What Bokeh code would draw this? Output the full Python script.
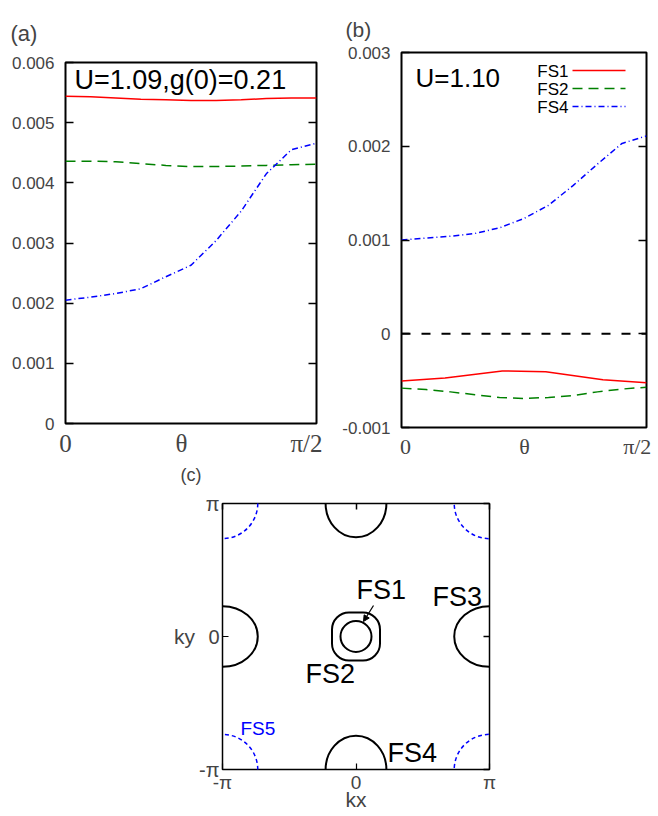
import math
from bokeh.plotting import figure
from bokeh.models import (Range1d, LinearAxis, FixedTicker, Label, Span, Arrow, NormalHead, Title)
from bokeh.layouts import column, row
from bokeh.embed import file_html
from bokeh.resources import INLINE

PI = math.pi

# ---------------- panel (a): U=1.09, g(0)=0.21 ----------------
theta_a = [0, 9, 18, 27, 36, 45, 54, 63, 72, 81, 90]          # degrees, 0 .. pi/2
a_fs1 = [0.00544, 0.00543, 0.00541, 0.00539, 0.00538, 0.00537, 0.00537, 0.00538, 0.00540, 0.00541, 0.00541]
a_fs2 = [0.00436, 0.00436, 0.00435, 0.00432, 0.00429, 0.00427, 0.00427, 0.00428, 0.00429, 0.00430, 0.00431]
a_fs4 = [0.00205, 0.00210, 0.00216, 0.00224, 0.00244, 0.00263, 0.00304, 0.00353, 0.00415, 0.00455, 0.00466]
a_yticks = [0.0, 0.001, 0.002, 0.003, 0.004, 0.005, 0.006]
a_ylabels = ["0", "0.001", "0.002", "0.003", "0.004", "0.005", "0.006"]
a_xticks = [0, 41.6, 86.4]
x_labels = ["0", "θ", "π/2"]

# ---------------- panel (b): U=1.10 ----------------
theta_b = [0, 9, 18, 27, 36, 45, 54, 63, 72, 81, 90]
theta_b_fs1 = [0, 16, 37, 53, 74, 90]
b_fs1 = [-0.000504, -0.000472, -0.000397, -0.000405, -0.000490, -0.000522]
b_fs2 = [-0.000580, -0.000595, -0.000620, -0.000650, -0.000680, -0.000690, -0.000680, -0.000660, -0.000620, -0.000590, -0.000570]
b_fs4 = [0.00100, 0.00102, 0.00104, 0.00107, 0.00113, 0.00123, 0.00137, 0.00158, 0.00181, 0.00203, 0.00211]
b_yticks = [-0.001, 0.0, 0.001, 0.002, 0.003]
b_ylabels = ["-0.001", "0", "0.001", "0.002", "0.003"]
b_xticks = [1.5, 45.2, 86.6]

series_names = ["FS1", "FS2", "FS4"]
series_colors = ["#ff0000", "#008000", "#0000ff"]
series_dashes = ["solid", "10 6", "6 3 1 3"]

# ---------------- panel (c): Fermi surfaces ----------------
fs1_x, fs1_y, fs1_d = [0.0], [0.0], [0.73]
fs2_x, fs2_y, fs2_w = [0.0], [0.0], [1.13]
fs3_x, fs3_y, fs3_w, fs3_h = [-PI, PI], [0.0, 0.0], [1.66, 1.66], [1.43, 1.43]
fs4_x, fs4_y, fs4_w, fs4_h = [0.0, 0.0], [PI, -PI], [1.43, 1.43], [1.60, 1.60]
fs5_x, fs5_y, fs5_d = [-PI, PI, -PI, PI], [PI, PI, -PI, -PI], [1.66, 1.66, 1.66, 1.66]
c_ticks = [-PI, 0.0, PI]
c_left_labels = ["-π", "0", "π"]
c_bottom_labels = ["-π", "0", "π"]


class Geo:
    """Maps page pixel positions (for text placement) into a figure's data space."""
    def __init__(self, fx0, fx1, fy0, fy1, xr, yr):
        self.fx0, self.fx1, self.fy0, self.fy1, self.xr, self.yr = fx0, fx1, fy0, fy1, xr, yr

    def x(self, sx):
        return self.xr[0] + (sx - self.fx0) / (self.fx1 - self.fx0) * (self.xr[1] - self.xr[0])

    def y(self, sy):
        return self.yr[1] - (sy - self.fy0) / (self.fy1 - self.fy0) * (self.yr[1] - self.yr[0])


def lab(p, g, sx, sy, text, size, font="Liberation Sans", color="black", align="left"):
    # sy is the vertical centre of the capitals
    p.add_layout(Label(x=g.x(sx), y=g.y(sy), text=text, text_font=font,
                       text_font_size=f"{size}px", text_color=color, text_align=align,
                       text_baseline="middle"))


def panel_title(p, text, size, offset, standoff, side="above", valign="bottom"):
    p.add_layout(Title(text=text, align="left", offset=offset, standoff=standoff,
                       text_font="Liberation Sans", text_font_size=f"{size}px",
                       text_font_style="normal", vertical_align=valign), side)


def style_panel(p):
    p.grid.visible = False
    p.outline_line_color = "black"
    p.outline_line_width = 2
    p.outline_line_alpha = 1
    p.background_fill_color = "white"
    p.border_fill_color = "white"


def side_ticks(ticks, tick_len):
    return LinearAxis(ticker=FixedTicker(ticks=ticks),
                      major_label_overrides={t: "" for t in ticks},
                      major_tick_in=tick_len, major_tick_out=0, minor_tick_line_color=None,
                      axis_line_color=None, major_label_standoff=0,
                      major_label_text_font_size="1px", major_tick_line_width=1.5)


def style_yaxis(ax, ticks, labels):
    ax.ticker = FixedTicker(ticks=ticks)
    ax.major_label_overrides = dict(zip(ticks, labels))
    ax.major_tick_in = 8
    ax.major_tick_out = 0
    ax.major_tick_line_width = 1.5
    ax.minor_tick_line_color = None
    ax.axis_line_color = None
    ax.major_label_text_font = "Liberation Sans"
    ax.major_label_text_font_size = "17px"
    ax.major_label_standoff = 11


def style_xaxis(ax, ticks, size):
    ax.ticker = FixedTicker(ticks=ticks)
    ax.major_label_overrides = dict(zip(ticks, x_labels))
    ax.major_tick_line_color = None
    ax.minor_tick_line_color = None
    ax.axis_line_color = None
    ax.major_tick_in = 0
    ax.major_tick_out = 0
    ax.major_label_standoff = 6
    ax.major_label_text_font = "Liberation Serif"
    ax.major_label_text_font_size = f"{size}px"


ROW_H = 491

# ================= panel (a) =================
ga = Geo(65, 316, 62, 424, (0, 90), (0, 0.006))
pa = figure(width=330, height=ROW_H, x_range=Range1d(0, 90), y_range=Range1d(0, 0.006),
            output_backend="svg", toolbar_location=None,
            min_border_left=65, min_border_right=14, min_border_top=62, min_border_bottom=ROW_H - 424)
style_panel(pa)
style_yaxis(pa.yaxis[0], a_yticks, a_ylabels)
style_xaxis(pa.xaxis[0], a_xticks, 25)
pa.add_layout(side_ticks(a_yticks[1:-1], 8), "right")

for ys, c, d in zip([a_fs1, a_fs2, a_fs4], series_colors, series_dashes):
    pa.line(theta_a, ys, line_color=c, line_width=1.5, line_dash=d)

panel_title(pa, "(a)", 22, -55, 34)
lab(pa, ga, 74, 80, "U=1.09,g(0)=0.21", 27)
# caption of the lower panel, sitting under panel (a)'s axis in the page
panel_title(pa, "(c)", 18, 115, 10, side="below", valign="top")

# ================= panel (b) =================
gb = Geo(401, 646, 52, 427, (0, 90), (-0.001, 0.003))
pb = figure(width=326, height=ROW_H, x_range=Range1d(0, 90), y_range=Range1d(-0.001, 0.003),
            output_backend="svg", toolbar_location=None,
            min_border_left=71, min_border_right=10, min_border_top=52, min_border_bottom=ROW_H - 427)
style_panel(pb)
style_yaxis(pb.yaxis[0], b_yticks, b_ylabels)
style_xaxis(pb.xaxis[0], b_xticks, 22)
pb.add_layout(side_ticks(b_yticks[1:-1], 8), "right")

pb.add_layout(Span(location=0, dimension="width", line_color="black", line_width=2, line_dash="9 11"))
pb.line(theta_b_fs1, b_fs1, line_color=series_colors[0], line_width=1.5, line_dash=series_dashes[0])
pb.line(theta_b, b_fs2, line_color=series_colors[1], line_width=1.5, line_dash=series_dashes[1])
pb.line(theta_b, b_fs4, line_color=series_colors[2], line_width=1.5, line_dash=series_dashes[2])

# legend (label to the left of the sample, as in the original)
for name, c, d, sy in zip(series_names, series_colors, series_dashes, [71, 89, 107]):
    lab(pb, gb, 568, sy, name, 17, align="right")
    pb.line([gb.x(572), gb.x(625)], [gb.y(sy - 1), gb.y(sy - 1)], line_color=c, line_width=1.5, line_dash=d)

panel_title(pb, "(b)", 21, -56, 24)
lab(pb, gb, 415, 77, "U=1.10", 26)

# ================= panel (c) =================
C_H = 815 - ROW_H
gc = Geo(222, 489, 503, 769, (-PI, PI), (-PI, PI))
pc = figure(width=656, height=C_H, x_range=Range1d(-PI, PI), y_range=Range1d(-PI, PI),
            output_backend="svg", toolbar_location=None,
            min_border_left=222, min_border_right=167, min_border_top=503 - ROW_H,
            min_border_bottom=815 - 769)
style_panel(pc)
pc.outline_line_width = 1.5
for ax in pc.xaxis:
    ax.ticker = FixedTicker(ticks=c_ticks)
    ax.major_label_overrides = dict(zip(c_ticks, c_bottom_labels))
    ax.major_label_standoff = 2
    ax.major_label_text_font_size = "19px"
    ax.axis_label = "kx"
    ax.axis_label_standoff = -8
for ax in pc.yaxis:
    ax.ticker = FixedTicker(ticks=c_ticks)
    ax.major_label_overrides = dict(zip(c_ticks, c_left_labels))
    ax.major_label_standoff = 3
    ax.major_label_text_font_size = "20px"
    ax.axis_label = "ky"
    ax.axis_label_standoff = 1
    if "axis_label_orientation" in ax.properties():
        ax.axis_label_orientation = "horizontal"
for ax in list(pc.xaxis) + list(pc.yaxis):
    ax.major_label_text_font = "Liberation Sans"
    ax.axis_label_text_font = "Liberation Sans"
    ax.axis_label_text_font_size = "21px"
    ax.axis_label_text_font_style = "normal"
    ax.major_tick_in = 6
    ax.major_tick_out = 0
    ax.major_tick_line_width = 1.2
    ax.minor_tick_line_color = None
    ax.axis_line_color = None
pc.add_layout(side_ticks(c_ticks, 6), "right")
pc.add_layout(side_ticks(c_ticks, 6), "above")

pc.ellipse(fs5_x, fs5_y, width=fs5_d, height=fs5_d, fill_color=None,
           line_color="#0000ff", line_width=1.5, line_dash="4 3")
pc.ellipse(fs1_x, fs1_y, width=fs1_d, height=fs1_d, fill_color=None, line_color="black", line_width=2)
pc.rect(fs2_x, fs2_y, width=fs2_w, height=fs2_w, fill_color=None, line_color="black",
        line_width=2, border_radius=17)
pc.ellipse(fs3_x, fs3_y, width=fs3_w, height=fs3_h, fill_color=None, line_color="black", line_width=2)
pc.ellipse(fs4_x, fs4_y, width=fs4_w, height=fs4_h, fill_color=None, line_color="black", line_width=2)

pc.add_layout(Arrow(end=NormalHead(size=6, fill_color="black", line_color="black", line_width=1),
                    x_start=gc.x(373), y_start=gc.y(605), x_end=gc.x(363), y_end=gc.y(621),
                    line_color="black", line_width=1.2))

lab(pc, gc, 356, 589, "FS1", 27)
lab(pc, gc, 432, 596, "FS3", 27)
lab(pc, gc, 305, 673, "FS2", 27)
lab(pc, gc, 387, 752, "FS4", 27)
lab(pc, gc, 240, 728, "FS5", 19, color="#0000ff")

layout = column(row(column(pa), column(pb)), pc)
open("out.html", "w").write(file_html(layout, INLINE))
